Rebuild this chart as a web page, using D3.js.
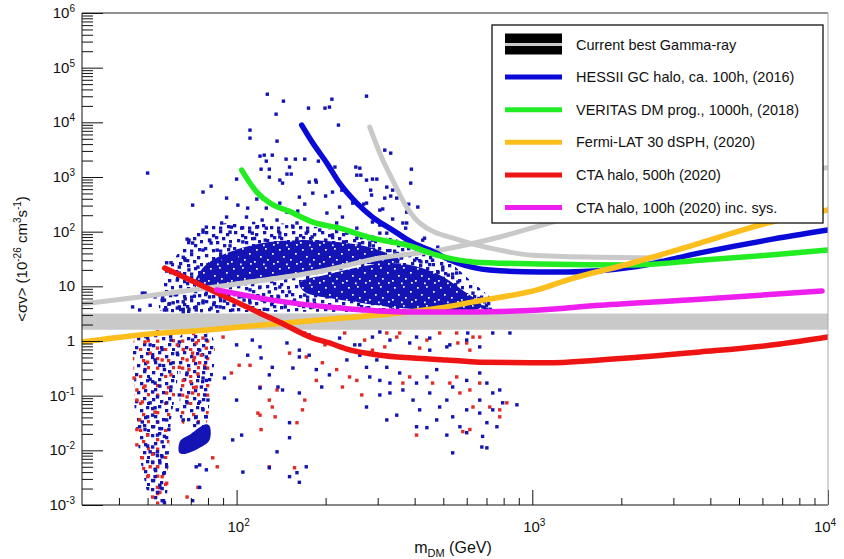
<!DOCTYPE html>
<html><head><meta charset="utf-8">
<script src="https://cdn.jsdelivr.net/npm/d3@7"></script>
<style>body{margin:0;background:#fff}svg{display:block;font-family:"Liberation Sans",Arial,Helvetica,sans-serif}</style>
</head><body><script>
// ---------------- DATA ----------------
const xTickValues = [100, 1000, 10000];
const yTickValues = [1e-3, 1e-2, 1e-1, 1, 10, 1e2, 1e3, 1e4, 1e5, 1e6];
const currentBest = [[30, 1.6, 3.2], [10000, 1.6, 3.2]];
const grayLine = [[30,4.75],[47,6.4],[100,11],[202,19.9],[305,33],[486,46],[776,80],[1170,150],[10000,1500]];
const grayU = [[282,8170],[305,2730],[337,877],[376,282],[416,144],[568,70],[776,46],[1000,37],[1690,34],[2700,33]];
const hessII = [[166,8890],[181,4170],[202,1790],[223,773],[255,333],[288,185],[337,107],[395,62],[450,46],[555,27],[718,19.9],[1060,18.3],[1310,18.3],[2190,22.5],[3690,41],[6220,70],[10000,107]];
const veritas = [[104,1340],[117,530],[130,330],[151,235],[181,150],[223,116],[288,76],[376,57],[486,36],[630,28],[1060,25.6],[2190,24.6],[3690,30],[6220,37],[10000,46]];
const fermi = [[30,0.96],[47,1.29],[79,1.59],[102,1.8],[223,2.6],[356,3.25],[486,4.0],[630,5.2],[1060,8.9],[1310,13],[2190,27],[3690,62],[6220,144],[10000,250]];
const cta500 = [[57.1,21.6],[73.2,11.5],[94.7,5.9],[122,3.1],[140,2.2],[181,1.13],[206,0.92],[236,0.71],[305,0.55],[395,0.49],[514,0.45],[664,0.41],[1120,0.40],[1690,0.45],[3690,0.63],[6890,0.88],[10000,1.18]];
const cta100 = [[85.6,8.6],[132,5.6],[223,4.0],[376,3.4],[630,3.4],[1060,3.7],[1690,4.5],[3690,5.8],[9550,8.2]];

// regions of the model scan that are too dense to read point by point
const cloudEnvelope = [[55,5.6],[59,20],[66.5,57],[78,116],[102,150],[163,132],[241,98],[356,70],[486,37],[615,13],[748,4.5],[664,3.25],[416,3.25],[223,3.4],[111,3.4],[64,3.25],[55,3.7]];
const upperLobe = [[72,10.6],[75,18.3],[81,27.8],[91,39],[106,52],[129,65],[163,70],[206,67],[261,57],[317,42],[356,30],[330,25.6],[261,25.6],[206,21.6],[163,17.5],[129,14.8],[102,12.5],[84,10.1],[75,8.6]];
const lowerLobe = [[163,11.5],[206,16.8],[261,22.5],[330,26.6],[400,23.5],[486,16.1],[580,8.6],[675,4.4],[615,3.5],[486,3.7],[356,4.0],[261,5.0],[206,6.1],[170,7.9]];
const leftColumn = [[46,1.29],[62,1.29],[63,0.19],[60,0.036],[58.5,0.0044],[57,0.0011],[52,0.0011],[48,0.0044],[45.5,0.036],[45,0.19]];
const secondColumn = [[65,1.29],[82,1.29],[81,0.083],[78,0.029],[66,0.03],[64.5,0.19]];
const lowTriangle = [[64,0.009],[64.5,0.0149],[70,0.020],[78.5,0.030],[81,0.028],[81,0.0155],[75,0.0111],[67,0.0086]];

const bluePoints = [
[127,32700],[144,24400],[210,26500],[275,30100],[175,18200],[206,19000],[199,18200],[136,14100],[221,8900],[111,7200],[111,5140],[137,4530],[50,1180],[332,2730],[120,2410],[124,2510],[126,1950],[132,2510],[147,2120],[158,2120],[170,2120],[121,1390],[129,1390],[151,1520],[129,995],[140,877],[148,1130],[153,1130],[143,773],[100,915],[82,681],[77,530],[71,306],[92.5,411],[117,394],[101,306],[109,270],[126,270],[140,333],[163,429],[176,806],[186,806],[181,507],[215,1520],[261,1450],[255,1080],[275,877],[288,915],[286,467],[317,411],[337,575],[348,411],[211,530],[200,448],[223,282],[247,333],[275,333],[305,248],[376,228],[410,282],[376,144],[288,150],[228,185],[202,219],[170,319],[161,238],[148,228],[137,163],[122,163],[108,185],[92.5,185],[89,144],[79,121],[77,98],[68,73],[96,121],[104,116],[117,121],[160,144],[181,150],[218,144],[255,116],[305,94],[282,62],
[58,27],[67,30],[69,70],[44.5,4.2],[49,7.5],[57,5.6],[57,3.7],[59,4.7],[63,4.0],[66,3.8],[69,3.8],[73,4.2],[77,5.4],[81,6.4],[66,5.2],[58,19],[64,22.5],[63,13],[74,22.5],[77,46],[82,62],
[317,3100],[390,1390],[388,773],[382,319],[332,448],[322,653],[298,915],[284,575],[253,1520],[263,1080],[189,1950],[185,877],[227,575],[241,448],[269,319],[312,260],[337,170],[305,132],[373,116],[382,67],[432,76],[479,52],[498,20],[468,13.6],[390,39],
[95,98],[113,94],[126,116],[140,94],[155,121],[172,94],[191,107],[211,87],[236,94],[255,76],[288,70],[322,94],[365,144],[426,70],[460,30],[498,22.5],[555,17.5],[538,8.6],[630,7.5],[71,62],[66,34],[60,27],[69,20],[64,17.5],[77,107],[81,70],[86,46],
[48,7.5],[56,5.6],[58,3.7],[61,5.0],[64,4.2],[66,3.4],[73,3.7],[77,5.0],[82,4.0],[79,7.5],[71,8.6],[88,6.4],[95,7.9],[102,6.4],[111,8.6],[120,9.7],[129,7.9],[140,9.7],[151,7.9],[111,5.0],[122,5.6],[132,5.0],[148,5.2],[163,4.5],[181,4.2],[202,4.0],[223,4.2],[247,3.7],[275,4.0],[305,3.7],[337,3.7],[376,3.4],[426,4.0],[88,4.2],[97,3.7],[202,6.4],[223,8.6],[53,6.4],[62,7],[67,5.9],[72,6.6],[84,5.0],[91,5.4],[98,4.5],[106,5.6],[118,6.6],[124,3.8],[138,6.6],[146,4.2],[157,5.6],[170,6.9],[183,5.6],[51,4.5],[47,3.7],
[75,15],[80,25],[90,30],[100,35],[95,55],[105,65],[115,75],[125,70],[140,80],[160,75],[180,80],[200,70],[230,65],[260,60],[290,55],[330,45],[350,40],[360,33],[400,30],[420,28],[450,25],[480,18],[500,14],[520,10],[540,8],[560,6.5],[600,5.5],[640,4.8],[680,4.2],[700,3.8],[730,3.6],[560,12],[520,16],[700,4.5],[720,3.8],[690,5.2],[660,6],
[176,1.29],[191,1.04],[223,1.13],[251,0.85],[288,1.18],[330,1.04],[385,0.92],[450,1.13],[526,0.85],[600,1.04],[163,0.51],
[51,0.85],[50,1.13],[53,0.45],[55,0.36],[57,0.30],[53,0.17],[52,0.117],[54,0.095],[51,0.074],[52,0.044],[50,0.041],[47,0.027],[49,0.024],[52,0.027],[54,0.033],[54,0.019],[52,0.0115],[51,0.0094],[54,0.0094],[56,0.0143],[56,0.0076],[52,0.0061],[55,0.0059],[57,0.0039],[53,0.0033],[55,0.0023],[54,0.0017],[56,0.0012],[57,0.0011],[58,0.0050],[58,0.0090],[59,0.024],[58,0.036],[58,0.074],[60,0.144],[61,0.40],[63,0.60],[60,1.04],[64,0.96],[49,0.3],[51,0.2],[53,0.06],[55,0.15],[50,0.012],[55,0.025],[53,0.0045],[56,0.002],[52,0.0028],[57,0.018],[54,0.008],[48,0.033],[52,0.5],[56,0.7],
[71,1.04],[75,0.68],[79,0.51],[78,0.32],[77,0.21],[76,0.144],[78,0.103],[75,0.077],[77,0.055],[73,0.041],[79,0.041],[74,0.032],[68,0.074],[64,0.103],[63,0.055],[66,0.036],[79,1.04],[68,0.26],[79,0.19],[80,0.083],
[100,0.85],[120,0.78],[109,0.55],[121,0.49],[100,0.083],[91,0.21],[104,0.019],[97,0.0155],[129,0.0048],[105,0.0040],[138,0.144],[132,0.33],[113,1.04],[129,0.24],[73,0.0050],[79,0.0044],[75,0.0021],[71,0.0012],[120,0.138],[137,0.0094],[151,0.0033],[160,0.0039],[163,0.0026],[151,0.017],[172,0.0050],[75,0.0054],
[148,0.92],[163,0.68],[176,0.55],[155,0.32],[186,0.30],[206,0.24],[194,0.144],[163,0.112],[143,0.127],[236,0.45],[261,0.55],[275,0.33],[282,0.22],[298,0.45],[322,0.33],[305,0.19],[330,0.17],[356,0.26],[365,0.127],[330,0.112],[305,0.103],[275,0.062],[348,0.044],[395,0.083],[406,0.17],[440,0.22],[475,0.30],[450,0.112],[416,0.055],[486,0.062],[514,0.083],[538,0.144],[600,0.19],[664,0.26],[702,0.17],[735,0.112],[664,0.083],[600,0.055],[538,0.041],[475,0.036],[569,0.027],[664,0.048],[735,0.055],[776,0.127],[794,0.074],[887,0.068],[702,0.032],[759,0.027],[679,0.018],[600,0.021],[514,0.019],[440,0.026],[406,0.027],[322,0.036],[538,0.0090],[675,0.0115],[702,0.0111],[605,1.4],[664,0.78],[735,1.4],[840,1.4],[305,1.46],[406,1.18],[450,0.68],[514,0.78],[538,0.45],[151,0.032],[261,0.85],[228,0.78]
];
const redPoints = [
[170,1.4],[199,0.85],[232,1.4],[271,1.04],[317,0.78],[356,1.4],[416,0.74],[486,1.4],[560,0.92],[615,0.68],
[49,0.96],[45,0.21],[46,0.127],[46,0.083],[47,0.036],[46,0.0126],[48,0.0073],[50,0.0033],[54,0.0021],[52,0.0014],[56,0.0033],[58,0.0025],[51,0.0050],[54,0.0050],[50,0.019],[53,0.050],[48,0.077],[60,0.24],[58,0.112],[56,0.45],[63,0.85],[51,0.60],[50,0.41],[54,0.74],[52,0.0085],[55,0.0017],[46,0.024],[49,0.15],
[68,0.45],[69,0.30],[66,0.19],[71,0.60],[73,0.92],[75,0.40],[70,0.18],[73,0.144],[79,0.74],[77,1.13],[64,0.33],[71,0.112],[68,0.095],[72,0.5],[76,0.55],[66,0.7],[74,0.25],[78,0.35],
[90,1.18],[96,0.26],[102,0.36],[111,0.36],[120,0.144],[118,0.048],[121,0.024],[132,0.062],[137,0.127],[83,0.0073],[86,0.0050],[120,0.044],[129,0.083],[135,0.041],[129,0.0050],[160,0.032],[68,0.0014],[74,0.0021],
[151,0.60],[172,0.51],[195,0.40],[218,0.30],[241,0.22],[228,0.144],[265,0.103],[255,0.19],[170,0.083],[167,0.055],[186,0.19],[288,0.68],[348,1.18],[365,0.17],[385,0.22],[460,0.17],[526,0.17],[555,0.22],[569,0.112],[615,0.127],[630,0.062],[664,0.17],[718,0.062],[776,0.055],[776,0.041],[820,0.074],[615,0.024],[582,0.022],[406,0.019],[157,0.0048],[322,1.4],[555,1.4],[600,0.92],[630,1.18],[440,1.04],[664,1.18]
];

const legendLabels = ["Current best Gamma-ray","HESSII GC halo, ca. 100h, (2016)","VERITAS DM prog., 1000h, (2018)","Fermi-LAT 30 dSPH, (2020)","CTA halo, 500h (2020)","CTA halo, 100h (2020) inc. sys."];

// ---------------- STYLE ----------------
const C = {blue:"#0a0ad8", pblue:"#1414b4", green:"#22ec22", yellow:"#fbbe1c", red:"#ee1414", pred:"#e22a26", magenta:"#ee1eee", gray:"#c9c9c9"};
const W = 844, H = 559, L = 82, R = 828, T = 13, B = 505;

const svg = d3.select("body").append("svg").attr("width", W).attr("height", H);
const x = d3.scaleLog().domain([30, 10000]).range([L, R]);
const y = d3.scaleLog().domain([1e-3, 1e6]).range([B, T]);

const defs = svg.append("defs");
defs.append("clipPath").attr("id", "clip").append("rect").attr("x", L).attr("y", T).attr("width", R - L).attr("height", B - T);
function speckle(id, w, h, sq, bg, sz) {
  const p = defs.append("pattern").attr("id", id).attr("patternUnits", "userSpaceOnUse").attr("width", w).attr("height", h);
  if (bg) p.append("rect").attr("width", w).attr("height", h).attr("fill", bg);
  sq.forEach(s => p.append("rect").attr("x", s[0]).attr("y", s[1]).attr("width", sz).attr("height", sz).attr("fill", s[2]));
}
const Bc = C.pblue, Rc = C.pred, Wc = "#fff";
speckle("dense", 23, 19, [[3,2,Wc],[12,1,Wc],[19,6,Wc],[7,9,Wc],[1,14,Wc],[14,12,Wc],[20,16,Wc],[10,16.5,Wc]], Bc, 1.7);
speckle("medium", 29, 23, [[2,1,Bc],[9,4,Bc],[16,0,Bc],[23,3,Bc],[26,10,Bc],[5,9,Bc],[13,11,Bc],[20,14,Bc],[1,17,Bc],[9,19,Bc],[16,19.5,Bc],[24,18,Bc],[12,6,Bc],[19,7,Bc]], null, 3.3);
speckle("mixed", 25, 27, [[1,2,Bc],[8,0,Bc],[15,4,Bc],[21,1,Bc],[4,10,Bc],[12,13,Bc],[19,11,Bc],[2,20,Bc],[10,22,Bc],[18,19,Bc],[22,24,Bc],[6,6,Rc],[17,8,Rc],[14,24,Rc],[22,15,Rc],[6,15.5,Rc]], null, 3.3);

const plot = svg.append("g").attr("clip-path", "url(#clip)");

// dense clouds
const closed = d3.line().x(d => x(d[0])).y(d => y(d[1])).curve(d3.curveCatmullRomClosed);
const regions = [
  {d: cloudEnvelope, f: "url(#medium)"},
  {d: upperLobe, f: "url(#dense)"},
  {d: lowerLobe, f: "url(#dense)"},
  {d: leftColumn, f: "url(#mixed)"},
  {d: secondColumn, f: "url(#mixed)"},
  {d: lowTriangle, f: C.pblue}
];
plot.selectAll("path.region").data(regions).enter().append("path")
  .attr("class", "region").attr("d", r => closed(r.d)).attr("fill", r => r.f);

// scatter points
const ms = 3.4;
plot.selectAll("rect.rp").data(redPoints).enter().append("rect").attr("class", "rp")
  .attr("x", d => x(d[0]) - ms / 2).attr("y", d => y(d[1]) - ms / 2).attr("width", ms).attr("height", ms).attr("fill", C.pred);
plot.selectAll("rect.bp").data(bluePoints).enter().append("rect").attr("class", "bp")
  .attr("x", d => x(d[0]) - ms / 2).attr("y", d => y(d[1]) - ms / 2).attr("width", ms).attr("height", ms).attr("fill", C.pblue);

// current best band
plot.append("path").datum(currentBest)
  .attr("d", d3.area().x(d => x(d[0])).y0(d => y(d[1])).y1(d => y(d[2])))
  .attr("fill", C.gray);

// curves
const line = d3.line().x(d => x(d[0])).y(d => y(d[1])).curve(d3.curveMonotoneX);
const curves = [
  {d: grayLine, c: C.gray, w: 5},
  {d: grayU, c: C.gray, w: 5},
  {d: hessII, c: C.blue, w: 5.5},
  {d: veritas, c: C.green, w: 5.5},
  {d: fermi, c: C.yellow, w: 5.5},
  {d: cta500, c: C.red, w: 5.5},
  {d: cta100, c: C.magenta, w: 5.5}
];
plot.selectAll("path.curve").data(curves).enter().append("path").attr("class", "curve")
  .attr("d", d => line(d.d)).attr("fill", "none").attr("stroke", d => d.c).attr("stroke-width", d => d.w)
  .attr("stroke-linecap", "round");

// ---------------- AXES ----------------
const minorY = [];
for (let e = -3; e < 6; e++) for (let k = 2; k <= 9; k++) minorY.push(k * Math.pow(10, e));
const minorX = [];
for (let e = 1; e < 4; e++) for (let k = 2; k <= 9; k++) { const v = k * Math.pow(10, e); if (v > 30 && v < 10000) minorX.push(v); }

svg.append("g").attr("transform", `translate(${L},0)`)
  .call(d3.axisLeft(y).tickValues(yTickValues).tickSize(-21).tickFormat(""))
  .call(g => g.select(".domain").remove());
svg.append("g").attr("transform", `translate(${L},0)`)
  .call(d3.axisLeft(y).tickValues(minorY).tickSize(-11).tickFormat(""))
  .call(g => g.select(".domain").remove());
svg.append("g").attr("transform", `translate(0,${B})`)
  .call(d3.axisBottom(x).tickValues(xTickValues).tickSize(-15).tickFormat(""))
  .call(g => g.select(".domain").remove());
svg.append("g").attr("transform", `translate(0,${B})`)
  .call(d3.axisBottom(x).tickValues(minorX).tickSize(-7).tickFormat(""))
  .call(g => g.select(".domain").remove());
svg.selectAll(".tick line").attr("stroke", "#111");

// frame
svg.append("line").attr("x1", L).attr("x2", L).attr("y1", T).attr("y2", B).attr("stroke", "#111");
svg.append("line").attr("x1", L).attr("x2", R).attr("y1", B).attr("y2", B).attr("stroke", "#111");
svg.append("line").attr("x1", L).attr("x2", R).attr("y1", T).attr("y2", T).attr("stroke", "#222");
svg.append("line").attr("x1", R).attr("x2", R).attr("y1", T).attr("y2", B).attr("stroke", "#aaa");

// y labels
const yl = svg.append("g").attr("font-size", 15).attr("fill", "#111");
yTickValues.forEach(v => {
  const e = Math.round(Math.log10(v));
  const t = yl.append("text").attr("x", 75).attr("y", y(v) + 5).attr("text-anchor", "end");
  if (e === 0) t.text("1");
  else if (e === 1) t.text("10");
  else { t.append("tspan").text("10"); t.append("tspan").attr("dy", -6).attr("font-size", 10).text(e); }
});
// x labels
const xl = svg.append("g").attr("font-size", 15).attr("fill", "#111");
xTickValues.forEach(v => {
  const e = Math.round(Math.log10(v));
  const t = xl.append("text").attr("x", x(v) + 2 - (v === 10000 ? 5 : 0)).attr("y", 532).attr("text-anchor", "middle");
  t.append("tspan").text("10"); t.append("tspan").attr("dy", -6).attr("font-size", 10).text(e);
});

// axis titles
const xt = svg.append("text").attr("x", 453).attr("y", 553).attr("text-anchor", "middle").attr("font-size", 16).attr("fill", "#111");
xt.append("tspan").text("m");
xt.append("tspan").attr("dy", 4).attr("font-size", 11).text("DM");
xt.append("tspan").attr("dy", -4).text(" (GeV)");

const yt = svg.append("text").attr("transform", "translate(27,259) rotate(-90)").attr("text-anchor", "middle").attr("font-size", 15).attr("fill", "#111");
yt.append("tspan").text("<σv> (10");
yt.append("tspan").attr("dy", -6).attr("font-size", 10).text("-26");
yt.append("tspan").attr("dy", 6).text(" cm");
yt.append("tspan").attr("dy", -6).attr("font-size", 10).text("3");
yt.append("tspan").attr("dy", 6).text("s");
yt.append("tspan").attr("dy", -6).attr("font-size", 10).text("-1");
yt.append("tspan").attr("dy", 6).text(")");

// ---------------- LEGEND ----------------
const lg = svg.append("g");
lg.append("rect").attr("x", 492).attr("y", 25).attr("width", 331).attr("height", 198)
  .attr("fill", "#fff").attr("stroke", "#111").attr("stroke-width", 1.3);
const rowY = i => 44.5 + i * 32.6;
const legColors = [null, C.blue, C.green, C.yellow, C.red, C.magenta];
lg.append("rect").attr("x", 505).attr("y", rowY(0) - 11).attr("width", 57).attr("height", 21).attr("fill", "#000");
lg.append("rect").attr("x", 505).attr("y", rowY(0) - 1.5).attr("width", 57).attr("height", 3).attr("fill", C.gray);
legendLabels.forEach((lab, i) => {
  if (i > 0) lg.append("line").attr("x1", 505).attr("x2", 562).attr("y1", rowY(i)).attr("y2", rowY(i))
    .attr("stroke", legColors[i]).attr("stroke-width", 5);
  lg.append("text").attr("x", 576).attr("y", rowY(i) + 5).attr("font-size", 14.5).attr("fill", "#111").text(lab);
});
</script></body></html>
